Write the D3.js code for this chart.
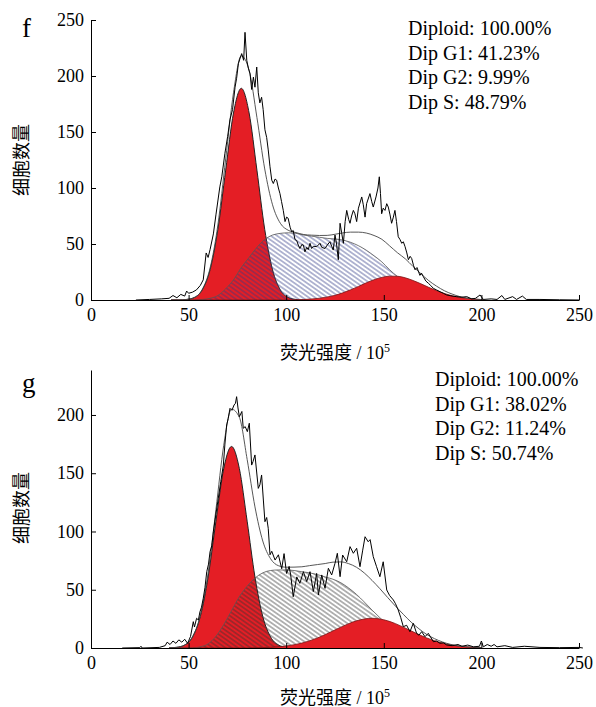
<!DOCTYPE html>
<html>
<head>
<meta charset="utf-8">
<script src="https://cdn.jsdelivr.net/npm/d3@7"></script>
<style>
  body { margin: 0; background: #fff; }
  svg { display: block; font-family: "Liberation Serif", "Times New Roman", "Noto Sans CJK SC", serif; }
</style>
</head>
<body>
<svg width="596" height="707"></svg>
<script>
// ---- panel f : model components sampled on a channel grid ----
const fX  = [41,45,49,53,57,61,65,69,73,77,81,85,89,93,97,101,105,109,113,117,121,125,129,133,137,141,145,149,153,157,161,165,169,173,177,181,185,189,193,197,201];
const fG1 = [0,0,0.5,2.3,9,27,63,116,167,189,167,116,63,27,9,2.3,0.5,0,0,0,0,0,0,0,0,0,0,0,0,0,0,0,0,0,0,0,0,0,0,0,0];
const fS  = [0,0,0,0,0.5,1.5,4,10,18,29,38,47,54,58,59.5,60,59.5,58,57,56,55,54.5,53.5,51.5,48.5,44.5,39.5,34,27,21,17,12.5,9,6,4,2.5,1.5,0.7,0.2,0,0];
const fG2 = [0,0,0,0,0,0,0,0,0,0,0,0,0,0,0,0,0.2,0.45,0.9,1.6,2.7,4.2,6.4,9.1,12.1,15.3,18.1,20.2,21.3,21.2,19.8,17.4,14.5,11.3,8.4,5.8,3.8,2.3,1.4,0.7,0.3];
// raw histogram [channel, count]
const fHist = [[23,0],[30,0.5],[36,1],[40,1.5],[42,4],[44,2],[46,5],[48,3.5],[49,8],[50,6],[52,7],[54,9],[56,13],[57.5,18],[59,42],[60,38],[61,45],[62.7,59],[64,76],[66,101],[67,110],[68.6,131],[70,146],[71.2,161],[72.5,170],[73.8,190],[74.6,198],[75.5,211],[76.4,216],[77.2,220],[78.2,214],[78.9,239],[79.8,214],[80.6,207],[81.5,202],[82.3,188],[83.2,199],[84,190],[84.9,208],[85.7,185],[86.5,176],[87.4,181],[88.2,170],[89.1,152],[90,145],[90.8,134],[91.7,119],[92.6,107],[93.4,104],[94.3,108],[95.1,107],[96,100],[96.8,95],[97.6,88],[98.5,80],[99.4,70],[100.2,74],[101,73],[102,65],[102.8,61],[103.6,62],[104.5,54],[105.4,53],[106.2,49],[107,46],[108,49.5],[108.8,49],[109.6,43],[110.5,47],[111.3,45],[112.2,50.6],[113,46],[114,48],[115.6,47.6],[116.4,49],[117.3,50.6],[118.2,47],[119.9,46],[121,49],[122.4,52],[123.3,48],[124.1,44.6],[125,58],[125.8,50],[126.7,36],[127.6,68.5],[128.4,60],[129.3,50.6],[130.2,70],[131,80],[132,72],[132.7,68.5],[133.5,75],[134.4,80],[135.2,77],[136.1,70],[137,82],[138.7,92],[139.5,85],[140.4,74],[141.2,86],[142.9,95],[143.8,88],[144.6,83],[146,92],[147,100],[147.7,110],[148.3,95],[148.9,77],[149.7,82],[150.6,80],[151.5,86],[152.3,83],[153.2,76],[154,68.5],[154.9,74],[155.7,80],[156.5,70],[157.4,56.5],[158.3,54],[159.2,50.6],[160,52],[160.9,47.6],[161.8,42],[162.6,36],[163.5,39],[164.3,37],[165.2,31],[166,27],[167,29],[168.5,22],[169.3,24],[170.2,21],[171.5,17],[172.8,15],[174,13],[175.4,10.4],[177,9],[178.8,7.4],[180.5,6],[182.2,4.5],[185,3.5],[187.3,3],[190,2.5],[192.5,3],[195,1],[197,1.5],[199.3,4.5],[201,0.5],[205,1],[208,0.5],[210.5,4],[212,0.5],[216,3],[218,0.5],[221,3.5],[223,0.5],[230,0.5],[240,0.2],[250,0]];
const fStats = ['Diploid: 100.00%', 'Dip G1: 41.23%', 'Dip G2: 9.99%', 'Dip S: 48.79%'];

// ---- panel g ----
const gX  = [40,44,48,52,56,60,64,68,72,76,80,84,88,92,96,100,104,108,112,116,120,124,128,132,136,140,144,148,152,156,160,164,168,172,176,180,184,188,192,196,200];
const gG1 = [0.1,0.6,2.6,9.5,27,60.9,108.8,154,173,154,108.8,60.9,27,9.5,2.6,0.6,0.1,0,0,0,0,0,0,0,0,0,0,0,0,0,0,0,0,0,0,0,0,0,0,0,0];
const gS  = [0,0,0,0,1,3.5,10,20,32,44,53,60,64.5,66.5,67,67,66.5,65.5,64.5,63,61,59,56,51.5,46,39.5,32.5,26,20,15,11,7.5,5,3,1.8,1,0.4,0.1,0,0,0];
const gG2 = [0,0,0,0,0,0,0,0,0,0,0,0.2,0.3,0.6,1.05,1.75,2.8,4.2,6.2,8.6,11.5,14.7,17.9,20.9,23.3,24.9,25.5,24.9,23.3,20.9,17.9,14.7,11.5,8.6,6.2,4.2,2.8,1.75,1.05,0.6,0.3];
const gHist = [[16,0],[25,0.3],[25.6,1.5],[26.2,0],[35,0.5],[38,2],[39,5],[40.5,3],[42,6],[43.5,4],[45,7],[46.5,5],[48,7.5],[49.5,4],[51,10],[52.4,22.6],[53,18],[54.1,25.5],[55,24],[55.8,31],[56.6,35],[57.5,42.6],[58.4,52],[59.3,65.5],[60.2,72],[61,82.7],[61.9,88],[62.7,99.8],[64,115],[65.2,128.5],[66.5,143],[67.8,157],[68.6,175],[69.5,191.4],[70.3,197],[71.2,205.7],[72.2,204],[73.3,208.6],[74,210],[74.6,215.7],[75.3,206],[76,198.5],[77.3,203],[78,188.6],[79,190],[80.1,185.7],[81.1,192.9],[82.3,157],[83,160],[84,165.7],[85.7,137],[86.5,140],[87.4,148.5],[88.3,127],[89.1,108.4],[90,112],[90.8,102.7],[91.7,80],[92.6,83],[94.3,75.5],[96,80],[97.7,68],[98.9,81],[100.2,64],[101.5,70],[102.3,62.7],[103.6,44],[105.4,61],[107,55.5],[108.8,65.5],[110.5,57],[112.2,65.5],[113.9,48.4],[115.6,64],[116.5,45.5],[118.2,62.7],[119.9,51.2],[121.6,68.4],[123.3,62.7],[125,72.7],[126.2,81.3],[127.6,61.2],[128.9,79.8],[131,74],[132.7,87],[134.4,81.3],[136.1,85.6],[137.8,69.8],[139.2,84],[140.4,95.5],[142,91.2],[143,93],[144.6,78.4],[146.3,69.8],[148,61.2],[149.7,74],[151.5,49.8],[153,45],[154.9,41.2],[156,38],[157.4,32.6],[158.7,26],[160,18.3],[161.7,19.5],[163.4,14],[165.1,21.2],[166.8,12.6],[168,11],[169.4,14],[171.1,9.7],[172.8,12.6],[175.4,5.4],[177,6],[178.8,4],[180.5,4.5],[182.2,2.6],[185,2],[188,3],[190,1.5],[193,2.5],[196,1],[199,1.5],[200,6],[201,1],[203,3],[205,1.5],[206.5,3],[208,1],[212,2],[216,0.5],[222,1.5],[230,0.5],[240,0.3],[250,0.5],[252,0]];
const gStats = ['Diploid: 100.00%', 'Dip G1: 38.02%', 'Dip G2: 11.24%', 'Dip S: 50.74%'];

const xTicks = [0, 50, 100, 150, 200, 250];
const RED = '#e41e25';

const svg = d3.select('svg');
const defs = svg.append('defs');

const panels = [
    {id: 'f', grid: fX, g1: fG1, s: fS, g2: fG2, hist: fHist, stats: fStats,
     top: 20, bottom: 300, yMax: 250, yTicks: [0, 50, 100, 150, 200, 250],
     statsX: 408, statsY: 35, hatch: '#2f3a85', letterY: 37, titleY: 359, yTitleY: 160},
    {id: 'g', grid: gX, g1: gG1, s: gS, g2: gG2, hist: gHist, stats: gStats,
     top: 370, bottom: 648, yMax: 238.6, yTicks: [0, 50, 100, 150, 200],
     statsX: 435, statsY: 386, hatch: '#333', letterY: 392, titleY: 704, yTitleY: 508}
];

panels.forEach(drawPanel);

function drawPanel(p){
    const x = d3.scaleLinear().domain([0, 250]).range([91, 579]);
    const y = d3.scaleLinear().domain([0, p.yMax]).range([p.bottom, p.top]);
    const g = svg.append('g');

    // hatch pattern for S phase
    const pat = defs.append('pattern')
        .attr('id', `hatch-${p.id}`)
        .attr('patternUnits', 'userSpaceOnUse')
        .attr('width', 3.6)
        .attr('height', 10)
        .attr('patternTransform', 'rotate(-55)');
    pat.append('line')
        .attr('x1', 1.8).attr('y1', 0).attr('x2', 1.8).attr('y2', 10)
        .attr('stroke', p.hatch)
        .attr('stroke-width', 0.75);

    const area = d3.area()
        .x((d, k) => x(p.grid[k]))
        .y0(y(0))
        .y1(d => y(d))
        .curve(d3.curveMonotoneX);
    const line = d3.line()
        .x((d, k) => x(p.grid[k]))
        .y(d => y(d))
        .curve(d3.curveMonotoneX);

    // envelope = sum of model components
    const fit = p.grid.map((v, k) => p.g1[k] + p.s[k] + p.g2[k]);

    g.append('path').attr('d', area(p.g1)).attr('fill', RED);
    g.append('path').attr('d', line(p.g1)).attr('fill', 'none').attr('stroke', '#222').attr('stroke-width', 1);
    g.append('path').attr('d', area(p.s)).attr('fill', `url(#hatch-${p.id})`);
    g.append('path').attr('d', line(p.s)).attr('fill', 'none').attr('stroke', '#555').attr('stroke-width', 0.8);
    g.append('path').attr('d', area(p.g2)).attr('fill', RED);
    g.append('path').attr('d', line(p.g2)).attr('fill', 'none').attr('stroke', '#7a1414').attr('stroke-width', 0.8);
    g.append('path').attr('d', line(fit)).attr('fill', 'none').attr('stroke', '#444').attr('stroke-width', 0.9);

    // raw histogram
    g.append('path')
        .attr('d', d3.line().x(d => x(d[0])).y(d => y(d[1]))(p.hist))
        .attr('fill', 'none')
        .attr('stroke', '#000')
        .attr('stroke-width', 1);

    // axes
    const xAxis = g.append('g')
        .attr('transform', `translate(0,${p.bottom})`)
        .call(d3.axisBottom(x).tickValues(xTicks).tickSizeInner(-5).tickSizeOuter(0).tickPadding(8));
    const yAxis = g.append('g')
        .attr('transform', 'translate(91,0)')
        .call(d3.axisLeft(y).tickValues(p.yTicks).tickSizeInner(-5).tickSizeOuter(0).tickPadding(7));
    for(const a of [xAxis, yAxis]){
        a.select('.domain').attr('stroke', '#000').attr('stroke-width', 1);
        a.selectAll('line').attr('stroke', '#000');
        a.selectAll('text')
            .attr('font-family', '"Liberation Serif", "Times New Roman", serif')
            .attr('font-size', 18)
            .attr('fill', '#000');
    }

    // panel letter
    g.append('text')
        .attr('x', 22).attr('y', p.letterY)
        .attr('font-size', 27)
        .attr('fill', '#000')
        .text(p.id);

    // stats
    g.append('g').selectAll('text')
        .data(p.stats)
        .enter()
        .append('text')
            .attr('x', p.statsX)
            .attr('y', (d, k) => p.statsY + k * 24.5)
            .attr('font-size', 20)
            .attr('fill', '#000')
            .text(d => d);

    // axis titles
    const xt = g.append('text')
        .attr('x', 335).attr('y', p.titleY)
        .attr('text-anchor', 'middle')
        .attr('font-size', 18)
        .attr('fill', '#000');
    xt.append('tspan').text('荧光强度 / 10');
    xt.append('tspan').attr('dy', -7).attr('font-size', 12).text('5');

    g.append('text')
        .attr('transform', `translate(28,${p.yTitleY}) rotate(-90)`)
        .attr('text-anchor', 'middle')
        .attr('font-size', 18)
        .attr('fill', '#000')
        .text('细胞数量');
}
</script>
</body>
</html>
